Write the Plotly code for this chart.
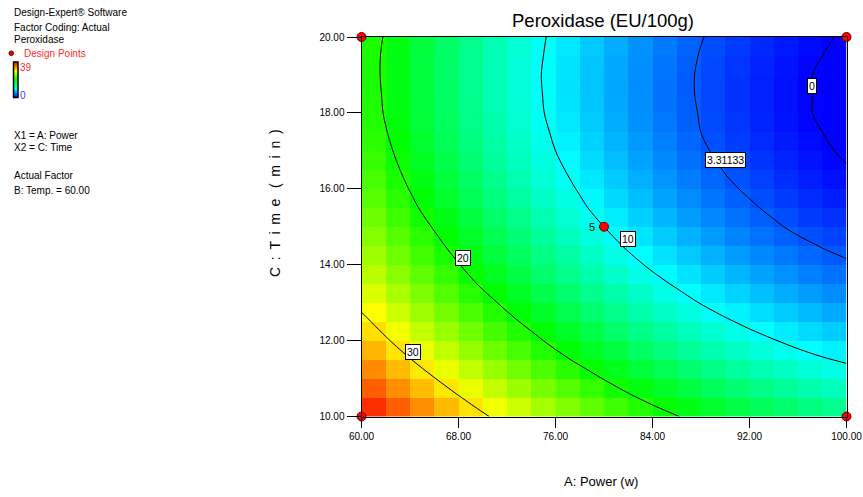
import numpy as np
import plotly.graph_objects as go

# ---------------- data ----------------
power_nodes = [60, 62, 64, 66, 68, 70, 72, 74, 76, 78, 80, 82, 84, 86, 88, 90, 92, 94, 96, 98, 100]
time_nodes = [10.0, 10.5, 11.0, 11.5, 12.0, 12.5, 13.0, 13.5, 14.0, 14.5, 15.0,
              15.5, 16.0, 16.5, 17.0, 17.5, 18.0, 18.5, 19.0, 19.5, 20.0]
# Peroxidase (EU/100g), rows = time (10 -> 20), cols = power (60 -> 100)
peroxidase = [
    [39.1,37.2,35.4,33.7,32.0,30.4,28.9,27.4,26.0,24.7,23.5,22.3,21.1,20.1,19.1,18.2,17.3,16.6,15.8,15.2,14.6],
    [37.2,35.4,33.6,31.8,30.2,28.6,27.1,25.6,24.2,22.9,21.6,20.4,19.3,18.3,17.3,16.4,15.6,14.8,14.1,13.4,12.9],
    [35.4,33.6,31.8,30.1,28.4,26.8,25.3,23.9,22.5,21.2,19.9,18.7,17.6,16.6,15.6,14.7,13.9,13.1,12.4,11.8,11.2],
    [33.7,31.9,30.1,28.4,26.8,25.2,23.7,22.2,20.8,19.5,18.3,17.1,16.0,15.0,14.0,13.1,12.3,11.5,10.8,10.2,9.7],
    [32.2,30.3,28.6,26.8,25.2,23.6,22.1,20.7,19.3,18.0,16.8,15.6,14.5,13.5,12.5,11.7,10.8,10.1,9.4,8.8,8.2],
    [30.7,28.9,27.1,25.4,23.8,22.2,20.7,19.3,17.9,16.6,15.4,14.2,13.1,12.1,11.2,10.3,9.5,8.7,8.1,7.4,6.9],
    [29.3,27.5,25.7,24.1,22.4,20.9,19.4,18.0,16.6,15.3,14.1,13.0,11.9,10.9,9.9,9.0,8.2,7.5,6.8,6.2,5.7],
    [28.1,26.3,24.5,22.8,21.2,19.6,18.2,16.7,15.4,14.1,12.9,11.8,10.7,9.7,8.8,7.9,7.1,6.4,5.7,5.1,4.6],
    [26.9,25.1,23.4,21.7,20.1,18.5,17.1,15.6,14.3,13.0,11.8,10.7,9.6,8.6,7.7,6.8,6.0,5.3,4.7,4.1,3.6],
    [25.9,24.1,22.3,20.7,19.1,17.5,16.1,14.7,13.3,12.1,10.9,9.7,8.7,7.7,6.8,5.9,5.1,4.4,3.8,3.2,2.7],
    [25.0,23.2,21.4,19.8,18.2,16.6,15.2,13.8,12.4,11.2,10.0,8.9,7.8,6.8,5.9,5.1,4.3,3.6,2.9,2.4,1.9],
    [24.1,22.3,20.6,18.9,17.4,15.8,14.4,13.0,11.7,10.4,9.2,8.1,7.1,6.1,5.2,4.4,3.6,2.9,2.2,1.7,1.2],
    [23.4,21.6,19.9,18.2,16.7,15.1,13.7,12.3,11.0,9.8,8.6,7.5,6.4,5.5,4.6,3.7,3.0,2.3,1.6,1.1,0.6],
    [22.8,21.0,19.3,17.7,16.1,14.6,13.1,11.8,10.5,9.2,8.0,6.9,5.9,5.0,4.1,3.2,2.5,1.8,1.2,0.6,0.1],
    [22.3,20.5,18.8,17.2,15.6,14.1,12.7,11.3,10.0,8.8,7.6,6.5,5.5,4.5,3.6,2.8,2.1,1.4,0.8,0.2,-0.2],
    [21.9,20.1,18.4,16.8,15.2,13.7,12.3,10.9,9.7,8.4,7.3,6.2,5.2,4.2,3.3,2.5,1.8,1.1,0.5,-0.0,-0.5],
    [21.6,19.8,18.1,16.5,15.0,13.5,12.1,10.7,9.4,8.2,7.1,6.0,5.0,4.0,3.2,2.3,1.6,0.9,0.3,-0.2,-0.7],
    [21.4,19.7,18.0,16.4,14.8,13.3,11.9,10.6,9.3,8.1,6.9,5.9,4.9,3.9,3.1,2.3,1.5,0.9,0.3,-0.2,-0.7],
    [21.3,19.6,17.9,16.3,14.8,13.3,11.9,10.5,9.3,8.1,6.9,5.9,4.9,3.9,3.1,2.3,1.6,0.9,0.3,-0.2,-0.6],
    [21.4,19.6,18.0,16.3,14.8,13.3,11.9,10.6,9.4,8.2,7.0,6.0,5.0,4.1,3.2,2.4,1.7,1.1,0.5,-0.0,-0.5],
    [21.5,19.8,18.1,16.5,15.0,13.5,12.1,10.8,9.5,8.4,7.2,6.2,5.2,4.3,3.4,2.7,2.0,1.3,0.7,0.2,-0.2],
]
contour_levels = [0, 3.31133, 10, 20, 30]
contour_labels = ["0", "3.31133", "10", "20", "30"]
label_power = [97.13, 90.0, 82.02, 68.33, 64.25]
label_time = [18.70, 16.75, 14.68, 14.18, 11.69]

design_power = [60, 60, 100, 100, 80]
design_time = [10, 20, 10, 20, 15]
center_replicates = "5"

color_min, color_max = 0, 39
x_ticks = [60, 68, 76, 84, 92, 100]
x_ticktext = ["60.00", "68.00", "76.00", "84.00", "92.00", "100.00"]
y_ticks = [10, 12, 14, 16, 18, 20]
y_ticktext = ["10.00", "12.00", "14.00", "16.00", "18.00", "20.00"]

# ---------------- figure ----------------
W, H = 863, 497
FONT = "Liberation Sans, Arial, sans-serif"

def px(x):
    return x / W

def py(y):
    return 1 - y / H

Z = np.array(peroxidase)
cells = (Z[:-1, :-1] + Z[1:, :-1] + Z[:-1, 1:] + Z[1:, 1:]) / 4.0
legend_gradient = np.linspace(color_min, color_max, 60).reshape(-1, 1)

rainbow = [[0.0, "rgb(0,0,255)"], [0.25, "rgb(0,255,255)"], [0.5, "rgb(0,255,0)"],
           [0.75, "rgb(255,255,0)"], [1.0, "rgb(255,0,0)"]]

fig = go.Figure()
fig.add_trace(go.Heatmap(
    x=power_nodes, y=time_nodes, z=cells, zmin=color_min, zmax=color_max,
    colorscale=rainbow, zsmooth=False, hoverinfo="skip", showscale=False,
))
for lv in contour_levels:
    fig.add_trace(go.Contour(
        x=power_nodes, y=time_nodes, z=Z,
        contours=dict(start=lv, end=lv, size=1, coloring="lines", showlabels=False),
        colorscale=[[0, "black"], [1, "black"]], showscale=False,
        line=dict(color="black", width=1, smoothing=1), hoverinfo="skip",
    ))
fig.add_trace(go.Scatter(
    x=design_power, y=design_time, mode="markers", cliponaxis=False,
    marker=dict(color="#ff0000", size=9, line=dict(color="#700000", width=1)),
    hoverinfo="skip", showlegend=False,
))
# legend colour bar (small gradient in the info panel)
fig.add_trace(go.Heatmap(
    z=legend_gradient, x=[0], y=legend_gradient[:, 0], zmin=color_min, zmax=color_max,
    colorscale=rainbow, showscale=False, hoverinfo="skip", xaxis="x2", yaxis="y2",
))

annotations = []
for lab, xx, yy in zip(contour_labels, label_power, label_time):
    annotations.append(dict(x=xx, y=yy, xref="x", yref="y", text=lab, showarrow=False,
                            xanchor="center", yanchor="middle",
                            font=dict(family=FONT, size=10.5, color="black"),
                            bgcolor="white", bordercolor="black", borderwidth=1, borderpad=1))
annotations.append(dict(x=79.42, y=15.0, xref="x", yref="y", text=center_replicates,
                        showarrow=False, xanchor="right", yanchor="middle",
                        font=dict(family=FONT, size=11, color="black")))

# Title and axis titles
annotations.append(dict(x=px(602.5), y=py(20), xref="paper", yref="paper",
                        xanchor="center", yanchor="middle",
                        text="Peroxidase (EU/100g)", showarrow=False,
                        font=dict(family=FONT, size=18.5, color="black")))
annotations.append(dict(x=px(601), y=py(481), xref="paper", yref="paper",
                        xanchor="center", yanchor="middle",
                        text="A: Power (w)", showarrow=False,
                        font=dict(family=FONT, size=13, color="black")))
ytitle = " \u2009".join(["C", ":", "T", "i", "m", "e", "\u00a0(", "m", "i", "n", ")"])
annotations.append(dict(x=px(275), y=py(203), xref="paper", yref="paper",
                        xanchor="center", yanchor="middle",
                        text=ytitle, showarrow=False, textangle=-90,
                        font=dict(family=FONT, size=14, color="black")))

# Left info panel
info = [("Design-Expert® Software", 13, 12, "black"),
        ("Factor Coding: Actual", 27, 12, "black"),
        ("Peroxidase", 40, 12, "black"),
        ("Design Points", 53, 22, "#ff2a2a"),
        ("39", 67.5, 18, "#ff2a2a"),
        ("0", 95, 18, "#3a3aff"),
        ("X1 = A: Power", 135, 12, "black"),
        ("X2 = C: Time", 148, 12, "black"),
        ("Actual Factor", 175, 12, "black"),
        ("B: Temp. = 60.00", 190, 12, "black")]
for txt, yy, xx, col in info:
    annotations.append(dict(x=px(xx), y=py(yy), xref="paper", yref="paper", text=txt,
                            showarrow=False, xanchor="left", yanchor="middle",
                            font=dict(family=FONT, size=10, color=col)))

shapes = [
    dict(type="circle", xref="paper", yref="paper",
         x0=px(9), x1=px(13.5), y0=py(55.5), y1=py(51),
         fillcolor="#ff0000", line=dict(color="#500000", width=1)),
    dict(type="rect", xref="paper", yref="paper",
         x0=px(13.5), x1=px(18), y0=py(97.5), y1=py(62),
         fillcolor="rgba(0,0,0,0)", line=dict(color="black", width=1.5)),
]

fig.update_layout(
    template="none",
    width=W, height=H, autosize=False,
    margin=dict(l=0, r=0, t=0, b=0, pad=0),
    paper_bgcolor="white", plot_bgcolor="white",
    showlegend=False, hovermode=False,
    annotations=annotations, shapes=shapes,
    xaxis=dict(domain=[px(361.5), px(846.5)], range=[60, 100], tickvals=x_ticks,
               ticktext=x_ticktext, ticks="outside", ticklen=10, tickcolor="black",
               tickwidth=1, showgrid=False, zeroline=False, showline=True,
               linecolor="black", linewidth=1, mirror=True, automargin=False,
               tickfont=dict(family=FONT, size=10, color="black")),
    yaxis=dict(domain=[py(416.5), py(37)], range=[10, 20], tickvals=y_ticks,
               ticktext=y_ticktext, ticks="outside", ticklen=14, tickcolor="black",
               tickwidth=1, showgrid=False, zeroline=False, showline=True,
               linecolor="black", linewidth=1, mirror=True, automargin=False,
               tickfont=dict(family=FONT, size=10, color="black")),
    xaxis2=dict(domain=[px(13.5), px(18)], anchor="y2", visible=False, automargin=False,
                fixedrange=True),
    yaxis2=dict(domain=[py(97.5), py(62)], anchor="x2", visible=False, automargin=False,
                range=[color_min - 0.3, color_max + 0.3], fixedrange=True),
)

# remove the default page margin / scrollbars so the figure sits at the window origin
page_fix = ("document.body.style.margin='0px';"
            "document.body.style.overflow='hidden';"
            "document.documentElement.style.overflow='hidden';")
fig.write_html("out.html", post_script=page_fix, config={"displayModeBar": False})
